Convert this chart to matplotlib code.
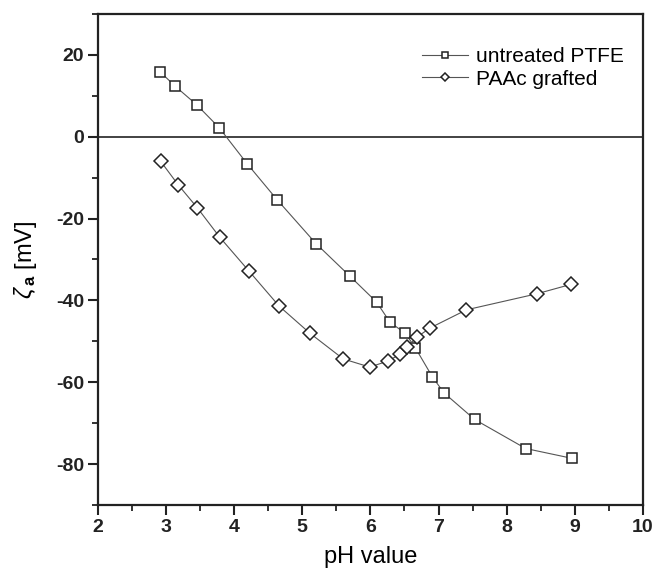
import matplotlib
matplotlib.use("Agg")
import matplotlib.pyplot as plt
from matplotlib.ticker import MultipleLocator

plt.rcParams['font.family'] = ['Liberation Sans', 'DejaVu Sans']
plt.rcParams['mathtext.fontset'] = 'custom'
plt.rcParams['mathtext.rm'] = 'Liberation Sans'
plt.rcParams['mathtext.it'] = 'Liberation Sans:italic'
plt.rcParams['mathtext.bf'] = 'Liberation Sans:bold'
plt.rcParams['axes.unicode_minus'] = False

ph_ptfe = [2.91, 3.13, 3.45, 3.78, 4.19, 4.63, 5.20, 5.70, 6.09, 6.29, 6.51, 6.66, 6.91, 7.08, 7.53, 8.28, 8.96]
zeta_ptfe = [15.9, 12.4, 7.8, 2.2, -6.6, -15.4, -26.1, -34.1, -40.4, -45.4, -48.0, -51.6, -58.7, -62.6, -69.1, -76.2, -78.6]

ph_paac = [2.92, 3.18, 3.46, 3.79, 4.21, 4.66, 5.11, 5.60, 5.99, 6.26, 6.43, 6.54, 6.68, 6.88, 7.41, 8.44, 8.94]
zeta_paac = [-6.0, -11.8, -17.4, -24.6, -32.7, -41.4, -48.0, -54.3, -56.3, -54.8, -53.2, -51.4, -49.0, -46.7, -42.3, -38.4, -36.1]

labels = ["untreated PTFE", "PAAc grafted"]

fig = plt.figure(figsize=(6.54, 5.73), dpi=100)
ax = fig.add_axes([0.1498, 0.1187, 0.8332, 0.8569])

ax.axhline(0, color='#222222', lw=1.2, zorder=1)
ax.plot(ph_ptfe, zeta_ptfe, color='#555555', lw=0.8, marker='s', ms=7.4,
        mfc='white', mec='#222222', mew=1.1, label=labels[0], zorder=3)
ax.plot(ph_paac, zeta_paac, color='#555555', lw=0.8, marker='D', ms=6.8,
        mfc='white', mec='#222222', mew=1.1, label=labels[1], zorder=3)

ax.set_xlim(2, 10)
ax.set_ylim(-90, 30)
ax.xaxis.set_major_locator(MultipleLocator(1))
ax.xaxis.set_minor_locator(MultipleLocator(0.5))
ax.yaxis.set_major_locator(MultipleLocator(20))
ax.yaxis.set_minor_locator(MultipleLocator(10))
ax.set_yticks([-80, -60, -40, -20, 0, 20])

for s in ax.spines.values():
    s.set_linewidth(1.6)
    s.set_color('#222222')
ax.tick_params(which='major', direction='out', length=7, width=1.5, labelsize=14, pad=3, colors='#222222')
ax.tick_params(which='minor', direction='out', length=4, width=1.3, colors='#222222')
for t in ax.get_xticklabels() + ax.get_yticklabels():
    t.set_fontweight('bold')

ax.set_xlabel('pH value', fontsize=17, labelpad=7)
ax.set_ylabel(r'$\zeta_{\,\mathbf{a}}$ [mV]', fontsize=17, labelpad=12)

leg = ax.legend(loc='upper right', bbox_to_anchor=(1.0, 0.97), frameon=False, fontsize=15,
                markerscale=0.6, handlelength=2.2, handletextpad=0.4, labelspacing=0.15)

fig.savefig('out.png', dpi=100)
